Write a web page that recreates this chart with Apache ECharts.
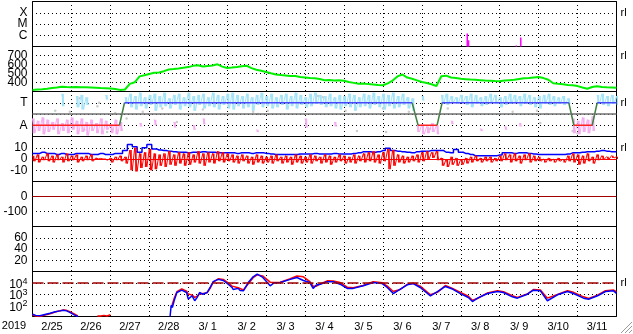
<!DOCTYPE html>
<html><head><meta charset="utf-8">
<script src="https://cdn.jsdelivr.net/npm/echarts@6/dist/echarts.min.js"></script>
<style>html,body{margin:0;padding:0;background:#fff}#c{width:633px;height:334px}</style>
</head><body><div id="c"></div>
<script>
// ---- labels ----
const dayLabels = ['2/25','2/26','2/27','2/28','3/ 1','3/ 2','3/ 3','3/ 4','3/ 5','3/ 6','3/ 7','3/ 8','3/ 9','3/10','3/11'];
const yearLabel = '2019';
const flareClassLabels = {'-4':'X','-5':'M','-6':'C'};
const stateLabels = {'3':'T','1':'A'};
const H = 3; // hours between samples of the regular series

// ---- panel 1: X-ray flares (log10 flux) ----
const flareHours = [268.0, 268.8, 298.2, 301.0];
const flarePeakLog = [-5.84, -6.44, -6.9, -6.2];

// ---- panel 2: solar wind speed, every 3 h ----
const windSpeed = [318,322,326,331,338,344,352,349,348,351,347,346,344,342,339,337,334,327,318,
 322,385,402,468,480,494,508,512,526,544,549,556,564,571,585,592,578,582,590,602,576,561,
 566,573,581,586,560,541,530,516,502,490,483,478,471,473,462,456,450,446,438,426,429,421,426,419,
 406,396,386,389,382,378,372,369,391,421,468,489,455,441,424,406,
 395,381,361,470,476,456,451,441,437,433,430,426,422,420,417,415,421,426,431,440,446,450,456,460,
 449,431,391,385,380,372,369,360,345,331,350,358,351,347,345,341];

// ---- panel 3: sector state (T / A) ----
const stateHours = [0, 53.6, 56.7, 234, 237.7, 249.4, 252.5, 330.6, 333.7, 345, 348.1, 360];
const stateLevels = [1, 1, 3, 3, 1, 1, 3, 3, 1, 1, 3, 3];
const tCloudHigh = [null,null,null,null,null,null,3.8,null,null,3.6,3.7,3.5,null,null,null,3.7,null,null,null,
 3.5,3.8,3.6,3.9,3.5,3.7,3.8,3.6,3.9,3.4,3.7,3.8,3.5,3.9,3.6,3.7,3.8,3.5,3.9,3.7,3.6,3.8,
 3.9,3.7,3.6,3.8,3.5,3.7,3.9,3.6,3.8,3.5,3.7,3.8,3.6,3.9,3.7,3.5,3.8,3.9,3.7,3.6,3.8,3.5,3.7,3.6,
 3.8,3.7,3.5,3.8,3.7,3.9,3.6,3.8,3.7,3.9,3.6,3.8,3.5,3.4,null,3.6,null,null,null,
 3.7,3.8,3.6,3.5,3.7,3.6,3.8,3.7,3.5,3.6,3.8,3.7,3.5,3.6,3.8,3.7,3.6,3.8,3.7,3.5,3.6,3.7,3.8,3.6,
 3.5,3.6,3.4,null,null,null,null,null,3.7,3.8,3.6,3.7,3.6];
const tCloudLow = [null,null,null,null,null,null,2.7,null,null,2.6,2.4,2.8,null,null,null,3.3,null,null,null,
 2.9,2.6,2.4,2.7,2.5,2.8,2.3,2.6,2.7,2.5,2.8,2.4,2.7,2.6,2.3,2.8,2.5,2.7,2.6,2.4,2.8,2.5,
 2.4,2.7,2.5,2.6,2.3,2.8,2.6,2.7,2.5,2.6,2.8,2.4,2.7,2.5,2.8,2.6,2.7,2.9,2.8,2.6,2.7,2.5,2.4,2.7,
 2.6,2.3,2.6,2.7,2.5,2.8,2.6,2.4,2.7,2.5,2.6,2.8,2.5,2.3,null,3.2,null,null,null,
 2.9,2.8,3.0,2.9,3.0,2.8,2.6,2.9,2.7,2.8,3.0,2.9,2.6,2.8,2.9,3.0,2.7,2.9,2.8,2.6,2.5,2.9,2.8,2.7,
 2.9,2.8,2.9,null,null,null,null,null,2.9,2.8,2.7,2.9,2.8];
const aCloudHigh = [1.6,1.4,1.7,1.5,1.3,1.6,1.2,1.5,1.7,1.4,1.6,1.3,1.5,1.2,1.6,1.4,1.1,1.5,1.3,
 null,null,null,1.2,null,null,1.5,null,null,null,1.3,null,null,null,1.0,null,1.6,null,null,null,null,null,
 null,null,null,null,null,0.6,null,null,null,null,null,null,null,null,null,1.6,null,null,null,null,null,1.3,null,null,
 null,null,null,null,null,null,null,null,null,null,null,null,null,null,1.0,1.1,0.9,1.2,1.0,
 null,null,1.4,null,null,null,null,null,0.7,null,null,null,null,0.9,null,null,1.2,null,null,null,null,null,null,null,
 null,null,null,1.6,1.4,1.7,1.5,1.8,null,null,null,null,null];
const aCloudLow = [0.3,0.5,0.2,0.4,0.6,0.2,0.5,0.3,0.6,0.2,0.4,0.1,0.5,0.3,0.2,0.6,0.3,0.2,0.5,
 null,null,null,0.9,null,null,1.0,null,null,null,0.8,null,null,null,0.6,null,1.1,null,null,null,null,null,
 null,null,null,null,null,0.4,null,null,null,null,null,null,null,null,null,0.8,null,null,null,null,null,0.9,null,null,
 null,null,null,null,null,null,null,null,null,null,null,null,null,null,0.4,0.2,0.3,0.4,0.2,
 null,null,1.1,null,null,null,null,null,0.5,null,null,null,null,0.6,null,null,0.9,null,null,null,null,null,null,null,
 null,null,null,0.3,0.2,0.4,0.3,0.5,null,null,null,null,null];
const grayHours = [14,23,28,29,32,40,41,46,49,51,58,68,80,89,105,136,139,145,176,179,193,200,216,218,232,245,256,296,311,313,317,333,336];
const grayLevels = [2.3,2.2,1.0,3.4,0.6,2.7,3.0,0.4,0.6,2.1,1.6,2.2,2.5,1.3,2.4,2.2,2.0,2.3,3.6,3.5,2.3,0.5,2.5,0.4,2.2,0.7,2.5,2.2,2.3,1.2,2.0,0.5,0.3];

// ---- panel 4: IMF Bt (blue) and Bz envelope (red), every 3 h ----
const btValues = [5,5,6,5,5,4,5,4,4,5,5,5,4,4,5,4,4,5,5,
 7.5,13,11,6,10,13,9,8,7.5,7,6.5,6,6,5.5,6,6,6.5,6,6,5.5,5.5,5.5,
 5.5,5,5.5,5.5,5,5.5,5.5,5,4.5,4,4,4,4,4,4.5,4.5,4.5,5,4.5,4.5,4.5,5,4.5,4.5,4.5,5,5.5,6.5,6.5,6,6.5,7.5,9.5,7.5,7,6.5,6,5.5,6.5,7,
 7,7.5,7.5,7.5,6,5.5,8.5,6,5,4,3,3,3,3,3,3.5,5.5,5.5,5,5.5,5.5,5,4.5,4,4,4,4,4,4,4.5,5.5,5.5,6,6.5,6.5,7,7.5,7,6.5,6.5];
const bzHigh = [3,4,2,5,3,4,2,5,3,4,2,3,4,1,0.5,0,1,2,3,
 2,8,10,5,6,9,5,4,5,7,4,6,5,6,4,7,5,6,5,7,6,5,
 4,3,4,3,2,4,3,2,3,4,2,3,2,4,3,2,4,3,2,4,3,2,4,3,2,4,3,5,6,7,4,6,9,8,4,3,2,3,4,6,
 7,6,7,1,0,2,1,0,1,2,3,1,2,2,1,3,5,4,5,3,4,5,3,2,0,1,0,1,0,3,5,4,3,5,2,4,3,2,3,2];
const bzLow = [-2,-3,-1,-2,-3,-1,-3,-2,-1,-3,-2,-1,-2,0,0,-1,-3,-1,-2,
 -4,-10,-11,-8,-7,-10,-9,-6,-7,-5,-6,-4,-6,-5,-3,-4,-6,-3,-4,-2,-3,-2,
 -3,-4,-2,-4,-5,-3,-4,-3,-4,-2,-4,-3,-5,-3,-4,-3,-4,-2,-4,-3,-5,-3,-2,-4,-3,-4,-2,-3,-2,-3,-4,-2,-9,-6,-3,-4,-3,-2,-3,-2,
 0,1,-1,-6,-7,-5,-6,-5,-4,-3,-2,-3,-2,-3,-2,-2,-1,-3,-2,-4,-1,-3,-2,-2,-3,-2,-3,-2,-3,-2,-3,-5,-4,-2,-4,-1,0,0,1,0];

// ---- panel 5: Dst reference ----
const dstHours = [0, 360];
const dstValues = [0, 0];

// ---- panel 7: electron flux (log10), blue & red ----
const fluxHours = [0,2,4.6,7,10.8,14,17,19,21,23,26,28,29,40,41,42,44,46,48,49,
 84.8,85.5,86.2,87.3,89,92,95,96,98.4,100,101.5,103,105,107.6,109.5,111.4,114.5,117.6,120.6,123,123.7,126.8,128,130,
 133,136,138.5,142,146.5,149,152.7,158.9,163,167,171,173,175,177.4,181.7,185.4,189.6,194,197.7,203.9,210,215.6,218.7,222.4,
 226.7,231,234.7,239,245.3,249.6,254.5,258.9,263.8,268.7,271.2,274.3,280.5,286.6,290.3,295.8,298.9,305,308.8,313.1,317.4,
 323.6,329.8,333.5,339.7,342.8,348.3,353.2,358.2,360];
const fluxBlue = [1.2,1.1,1.06,1.15,1.29,1.42,1.5,1.56,1.5,1.36,1.12,1.0,null,null,null,null,null,null,null,null,
 1.0,2.0,1.8,2.4,3.13,3.34,3.13,2.54,2.84,2.4,2.7,3.13,2.98,3.13,3.58,4.1,4.3,4.2,3.87,3.58,3.4,3.5,3.3,3.28,
 4.02,4.53,4.76,4.47,3.73,4.0,4.02,4.3,4.47,4.2,4.02,3.5,3.8,3.87,4.1,4.1,3.87,3.5,3.5,3.73,4.02,3.93,3.58,3.04,
 3.44,3.82,3.93,3.58,2.84,3.22,3.67,3.44,3.04,2.69,2.33,2.63,3.04,3.22,3.13,2.75,2.63,2.98,3.34,3.28,2.4,
 2.93,3.22,3.04,2.63,2.54,2.84,3.22,3.28,3.04];
const fluxRed = [1.15,1.05,1.0,1.1,1.25,1.4,1.52,1.58,1.55,1.42,1.2,1.05,null,1.05,1.2,1.05,1.1,1.05,1.15,null,
 null,1.8,2.1,2.6,3.2,3.45,3.25,3.0,2.9,2.7,2.8,3.0,3.05,3.1,3.5,4.05,4.35,4.3,4.0,3.7,3.65,3.55,3.5,3.35,
 3.9,4.45,4.7,4.6,4.05,4.02,4.05,4.35,4.6,4.53,4.1,3.7,3.7,3.9,4.17,4.15,4.02,3.6,3.55,3.75,4.1,4.0,3.7,3.22,
 3.4,3.85,3.95,3.7,2.93,3.15,3.75,3.5,3.15,2.8,2.45,2.6,3.1,3.3,3.2,2.85,2.7,3.0,3.4,3.35,2.63,
 2.95,3.3,3.15,2.75,2.6,2.9,3.3,3.35,3.2];

// ---- helpers building series data from the arrays ----
const gap = h => [h, '-'];
const regular = arr => arr.map((v, i) => v == null ? gap(i * H) : [i * H, v]);
function zigzag(hi, lo) {
  const out = [];
  hi.forEach((v, i) => {
    if (v == null) { out.push(gap(i * H)); return; }
    out.push([i * H, v]); out.push([i * H + H / 2, lo[i]]);
  });
  return out;
}
function streaks(hi, lo) {
  const out = [];
  hi.forEach((v, i) => {
    if (v == null) return;
    out.push([i * H + H / 4, v], [i * H + H / 4, lo[i]], gap(i * H + H / 4));
  });
  return out;
}
const zipH = (hs, vs) => hs.map((h, i) => vs[i] == null ? gap(h) : [h, vs[i]]);
function flareData() {
  const out = [];
  flareHours.forEach((h, i) => { out.push([h, -7], [h, flarePeakLog[i]], gap(h)); });
  return out;
}
function stateSegments(kind) {
  const out = [];
  for (let i = 0; i < stateHours.length - 1; i++) {
    const a = stateLevels[i], b = stateLevels[i + 1];
    const k = a !== b ? 'g' : (a === 3 ? 'b' : 'r');
    if (k === kind) out.push([stateHours[i], a], [stateHours[i + 1], b], gap(stateHours[i + 1]));
  }
  return out;
}

const FONT = 'Liberation Sans, Arial, sans-serif';
const dotted = { color: '#000', width: 1, type: [1, 3], dashOffset: 0.5 };
const gridTop = i => 1.5 + 45 * i;
const grids = [], xAxes = [], yAxes = [];
for (let i = 0; i < 7; i++) {
  grids.push({ left: 32.5, width: 584, top: gridTop(i), height: 45, show: true, borderColor: '#000', borderWidth: 1, backgroundColor: 'transparent' });
  xAxes.push({ type: 'value', gridIndex: i, min: 0, max: 360, interval: 24, axisLine: { show: false }, axisTick: { show: false }, axisLabel: { show: false }, splitLine: { show: true, lineStyle: dotted } });
}
xAxes.push({ type: 'category', gridIndex: 6, position: 'bottom', data: dayLabels, boundaryGap: true,
  axisLine: { show: false }, axisTick: { show: false }, splitLine: { show: false },
  axisLabel: { interval: 0, color: '#000', fontSize: 11, fontFamily: FONT, margin: 5 } });
function yAx(gi, min, max, interval, fmt, rich) {
  return { type: 'value', gridIndex: gi, min, max, interval,
    axisLine: { show: false }, axisTick: { show: false },
    axisLabel: { formatter: fmt, color: '#000', fontSize: 12, fontFamily: FONT, margin: 5, rich: rich },
    splitLine: { show: true, lineStyle: dotted } };
}
yAxes.push(yAx(0, -7, -3, 1, v => flareClassLabels[String(v)] || ''));
yAxes.push(yAx(1, 300, 800, 100, v => (v >= 400 && v <= 700) ? String(v) : ''));
yAxes.push(yAx(2, 0, 4, 1, v => stateLabels[String(v)] || ''));
yAxes.push(yAx(3, -20, 20, 10, v => (v > -20 && v < 20) ? String(v) : ''));
yAxes.push(yAx(4, -200, 100, 100, v => (v === 0 || v === -100) ? String(v) : ''));
yAxes.push(yAx(5, 0, 80, 20, v => (v > 0 && v < 80) ? String(v) : ''));
yAxes.push(yAx(6, 1, 5, 1, v => (v >= 2 && v <= 4) ? '{b|10}{s|' + v + '}' : '',
  { b: { fontSize: 12, fontFamily: FONT, color: '#000', lineHeight: 12, padding: [4, 0, 0, 0] },
    s: { fontSize: 9, fontFamily: FONT, color: '#000', lineHeight: 9, verticalAlign: 'top', padding: [0, 0, 6, 0] } }));

const L = (xi, extra) => Object.assign({ type: 'line', xAxisIndex: xi, yAxisIndex: xi, symbol: 'none', silent: true, connectNulls: false, animation: false }, extra);

const series = [
  L(0, { data: flareData(), lineStyle: { color: '#ff00ff', width: 1.5 } }),
  L(1, { data: regular(windSpeed), lineStyle: { color: '#00f000', width: 2 } }),
  L(2, { data: zigzag(tCloudHigh, tCloudLow), lineStyle: { color: '#a4e4f8', width: 1 } }),
  L(2, { data: streaks(tCloudHigh, tCloudLow), lineStyle: { color: '#a4e4f8', width: 2 } }),
  L(2, { data: zigzag(aCloudHigh, aCloudLow), lineStyle: { color: '#f5aef0', width: 1 } }),
  L(2, { data: streaks(aCloudHigh, aCloudLow), lineStyle: { color: '#f5aef0', width: 2 } }),
  { type: 'scatter', xAxisIndex: 2, yAxisIndex: 2, data: zipH(grayHours, grayLevels), symbolSize: 2.5, itemStyle: { color: '#c0c0c0' }, silent: true, animation: false },
  L(2, { data: [], markLine: { silent: true, symbol: 'none', label: { show: false }, lineStyle: { color: '#707070', width: 1.5, type: 'solid' }, data: [{ yAxis: 2 }] } }),
  L(2, { data: stateSegments('r'), lineStyle: { color: '#ff2020', width: 1.5 } }),
  L(2, { data: stateSegments('g'), lineStyle: { color: '#408040', width: 1.5 } }),
  L(2, { data: stateSegments('b'), lineStyle: { color: '#4848ff', width: 1.5 } }),
  L(3, { data: regular(btValues), step: 'middle', lineStyle: { color: '#0000ff', width: 1.5 } }),
  L(3, { data: streaks(bzHigh, bzLow), lineStyle: { color: '#ff0000', width: 1.5 } }),
  L(3, { data: zigzag(bzHigh, bzLow), lineStyle: { color: '#ff0000', width: 1 },
    markLine: { silent: true, symbol: 'none', label: { show: false }, lineStyle: { color: '#ff0000', width: 1, type: 'solid' }, data: [{ yAxis: 0 }] } }),
  L(4, { data: zipH(dstHours, dstValues), lineStyle: { color: '#a00000', width: 1 } }),
  L(6, { data: zipH(fluxHours, fluxRed), lineStyle: { color: '#ff0000', width: 1.5 },
    markLine: { silent: true, symbol: 'none', label: { show: false }, lineStyle: { color: '#a00000', width: 1.5, type: [11, 4] }, data: [{ yAxis: 4 }] } }),
  L(6, { data: zipH(fluxHours, fluxBlue), lineStyle: { color: '#0000ff', width: 1.5 } })
];

// right-hand "rl" markers at the top labelled gridline of panels 1-4 and 7
const rlLevels = [[0, -4], [1, 700], [2, 3], [3, 10], [6, 4]];

const chart = echarts.init(document.getElementById('c'), null, { renderer: 'canvas' });
chart.setOption({
  animation: false,
  backgroundColor: '#fff',
  grid: grids, xAxis: xAxes, yAxis: yAxes, series: series
});
const gfx = [{ type: 'text', x: 14, y: 326, style: { text: yearLabel, font: '11px ' + FONT, fill: '#000', textAlign: 'center', textVerticalAlign: 'middle', align: 'center', verticalAlign: 'middle' } }];
rlLevels.forEach(([gi, v]) => {
  const p = chart.convertToPixel({ gridIndex: gi }, [360, v]);
  gfx.push({ type: 'text', x: p[0] + 4, y: p[1], style: { text: 'rl', font: '11px ' + FONT, fill: '#000', textAlign: 'left', textVerticalAlign: 'middle', align: 'left', verticalAlign: 'middle' } });
});
[4, 8, 12].forEach(k => gfx.push({ type: 'line', shape: { x1: 633 - k, y1: 333, x2: 632, y2: 334 - k }, style: { stroke: '#999', lineWidth: 1 } }));
chart.setOption({ graphic: gfx });
</script>
</body></html>
